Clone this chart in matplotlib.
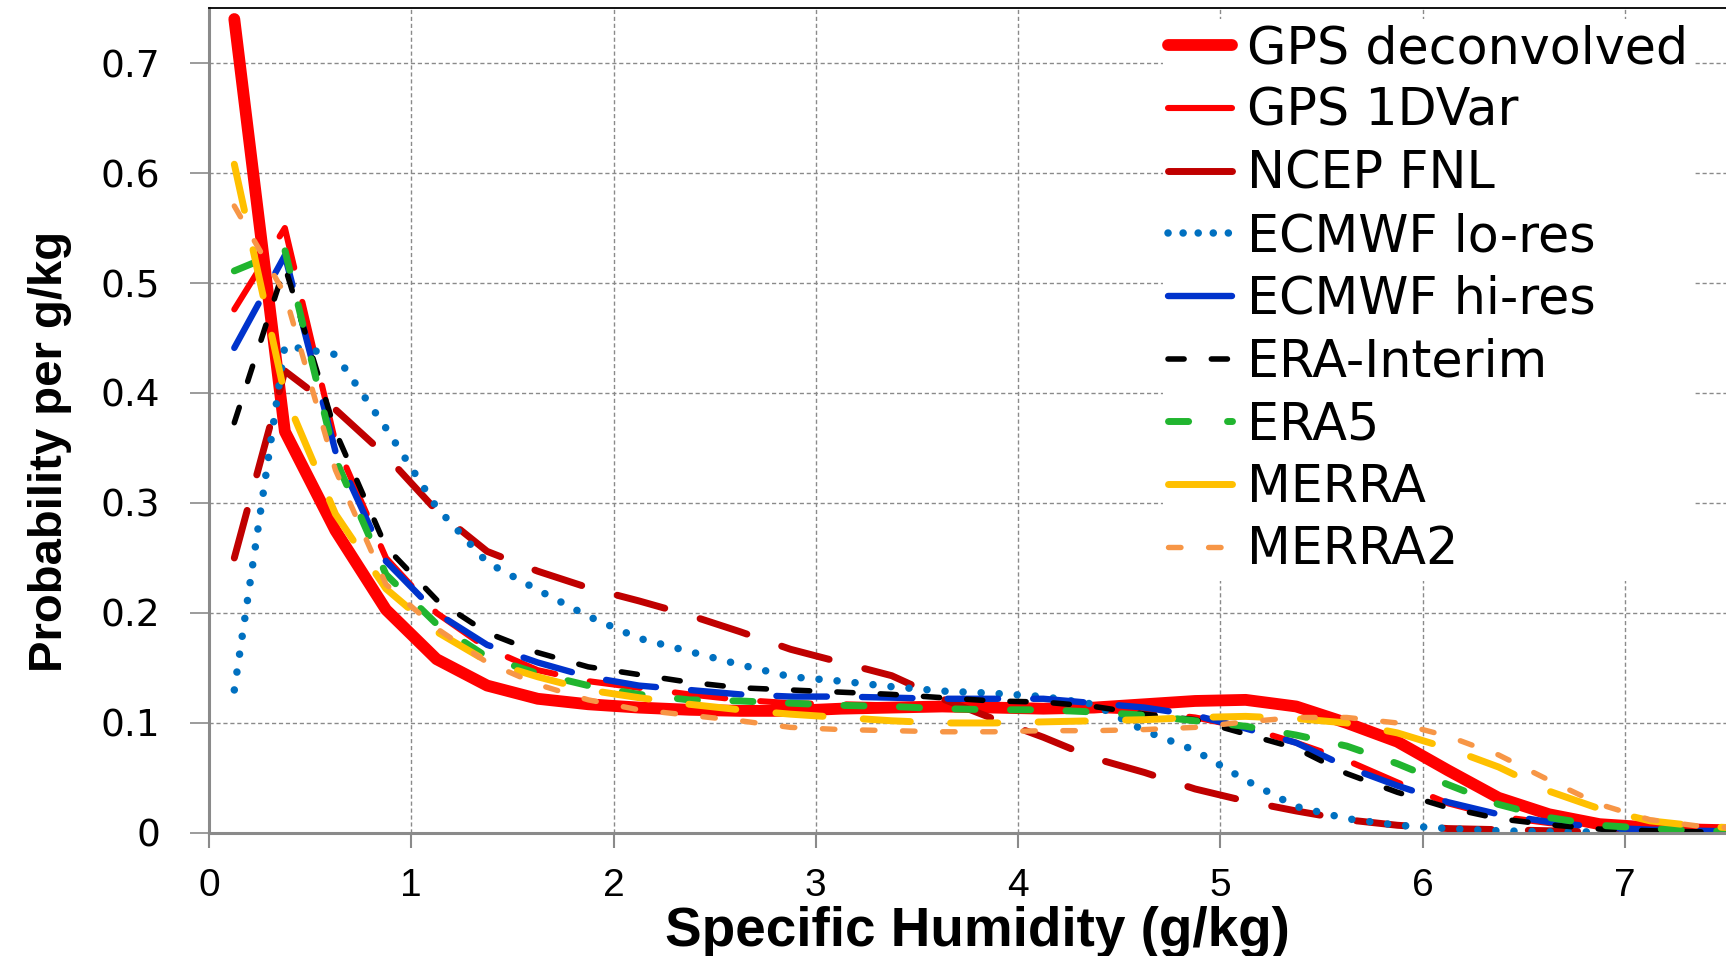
import matplotlib
matplotlib.use("Agg")
import matplotlib.pyplot as plt
from matplotlib.lines import Line2D

# bin centres (g/kg)
humidity = [0.125, 0.375, 0.625, 0.875, 1.125, 1.375, 1.625, 1.875, 2.125, 2.375,
            2.625, 2.875, 3.125, 3.375, 3.625, 3.875, 4.125, 4.375, 4.625, 4.875,
            5.125, 5.375, 5.625, 5.875, 6.125, 6.375, 6.625, 6.875, 7.125, 7.375, 7.625]

gps_deconvolved = [0.740, 0.365, 0.275, 0.203, 0.158, 0.134, 0.122, 0.117, 0.114, 0.112,
                   0.111, 0.111, 0.113, 0.114, 0.115, 0.114, 0.113, 0.114, 0.117, 0.120,
                   0.121, 0.115, 0.100, 0.083, 0.057, 0.032, 0.017, 0.008, 0.005, 0.003, 0.002]
gps_1dvar = [0.476, 0.550, 0.355, 0.250, 0.200, 0.168, 0.148, 0.138, 0.132, 0.126,
             0.121, 0.118, 0.117, 0.116, 0.115, 0.114, 0.113, 0.112, 0.110, 0.105,
             0.096, 0.082, 0.066, 0.046, 0.027, 0.015, 0.009, 0.005, 0.003, 0.002, 0.001]
ncep_fnl = [0.250, 0.420, 0.385, 0.343, 0.293, 0.256, 0.238, 0.223, 0.211, 0.198,
            0.183, 0.167, 0.155, 0.143, 0.122, 0.104, 0.087, 0.068, 0.055, 0.040,
            0.029, 0.020, 0.012, 0.007, 0.004, 0.003, 0.002, 0.001, 0.001, 0.0005, 0.0]
ecmwf_lo = [0.130, 0.443, 0.435, 0.368, 0.296, 0.246, 0.221, 0.197, 0.177, 0.165,
            0.153, 0.142, 0.138, 0.133, 0.129, 0.127, 0.124, 0.117, 0.093, 0.075,
            0.048, 0.024, 0.013, 0.007, 0.004, 0.002, 0.001, 0.001, 0.0005, 0.0, 0.0]
ecmwf_hi = [0.441, 0.525, 0.347, 0.247, 0.200, 0.171, 0.155, 0.142, 0.134, 0.130,
            0.126, 0.124, 0.124, 0.123, 0.122, 0.122, 0.122, 0.118, 0.114, 0.107,
            0.095, 0.082, 0.060, 0.043, 0.028, 0.017, 0.010, 0.005, 0.003, 0.002, 0.001]
era_interim = [0.373, 0.515, 0.365, 0.260, 0.212, 0.182, 0.164, 0.151, 0.144, 0.137,
               0.132, 0.130, 0.128, 0.126, 0.123, 0.120, 0.119, 0.115, 0.108, 0.103,
               0.090, 0.077, 0.054, 0.037, 0.023, 0.013, 0.0075, 0.0035, 0.002, 0.001, 0.0005]
era5 = [0.511, 0.530, 0.340, 0.235, 0.190, 0.160, 0.145, 0.134, 0.126, 0.121,
        0.120, 0.118, 0.116, 0.115, 0.113, 0.112, 0.112, 0.110, 0.107, 0.102,
        0.097, 0.089, 0.079, 0.063, 0.044, 0.026, 0.014, 0.007, 0.004, 0.002, 0.001]
merra = [0.608, 0.398, 0.290, 0.222, 0.183, 0.156, 0.142, 0.130, 0.123, 0.117,
         0.112, 0.108, 0.105, 0.102, 0.100, 0.100, 0.101, 0.102, 0.103, 0.105,
         0.106, 0.104, 0.100, 0.091, 0.077, 0.060, 0.038, 0.022, 0.011, 0.006, 0.004]
merra2 = [0.570, 0.490, 0.330, 0.226, 0.186, 0.155, 0.135, 0.121, 0.112, 0.107,
          0.102, 0.096, 0.094, 0.093, 0.092, 0.092, 0.093, 0.093, 0.094, 0.096,
          0.101, 0.105, 0.105, 0.100, 0.088, 0.071, 0.048, 0.026, 0.012, 0.006, 0.004]

labels = ["GPS deconvolved", "GPS 1DVar", "NCEP FNL", "ECMWF lo-res", "ECMWF hi-res",
          "ERA-Interim", "ERA5", "MERRA", "MERRA2"]
values = [gps_deconvolved, gps_1dvar, ncep_fnl, ecmwf_lo, ecmwf_hi,
          era_interim, era5, merra, merra2]

# style per series: colour, width (pt), dash in the plot, dash in the legend
colors = ["#FF0000", "#FF0000", "#C00000", "#0070C0", "#0033CC",
          "#000000", "#21B52F", "#FFC000", "#F79646"]
widths = [8.5, 4.4, 5.0, 5.4, 4.6, 4.0, 5.0, 5.0, 3.9]
plot_styles = ["-", (0, (8.3, 5.75)), (0, (7.1, 5.3)), (0, (0.01, 2.4)), (0, (7.9, 5.5)),
               (0, (2.9, 4.9)), (0, (2.9, 5.1)), (0, (6.8, 5.8)), (0, (2.3, 5.1))]
legend_styles = ["-", "-", "-", (0, (0.01, 2.0)), "-",
                 (0, (2.9, 4.9)), (0, (2.9, 5.6)), "-", (0, (2.3, 5.1))]

grid_grey = "#8a8a8a"

fig = plt.figure(figsize=(17.26, 9.56), dpi=100)
ax = fig.add_axes([0.1211, 0.1287, 0.8789, 0.8629])

for vals, col, lw, ls in zip(values, colors, widths, plot_styles):
    ax.plot(humidity, vals, color=col, linewidth=lw, linestyle=ls,
            dash_capstyle="round", solid_capstyle="round", solid_joinstyle="round")

ax.set_xlim(0, 7.5)
ax.set_ylim(0, 0.75)
ax.set_xticks(range(8))
ax.set_yticks([0, 0.1, 0.2, 0.3, 0.4, 0.5, 0.6, 0.7])
ax.set_yticklabels(["0", "0.1", "0.2", "0.3", "0.4", "0.5", "0.6", "0.7"])

ax.grid(True, color=grid_grey, linestyle=(0, (3, 2)), linewidth=1.0)
ax.set_axisbelow(True)

ax.spines["left"].set_color(grid_grey)
ax.spines["left"].set_linewidth(2.2)
ax.spines["bottom"].set_color(grid_grey)
ax.spines["bottom"].set_linewidth(2.2)
ax.spines["top"].set_color("black")
ax.spines["top"].set_linewidth(1.3)
ax.spines["right"].set_visible(False)

ax.tick_params(axis="y", direction="out", length=14, width=1.2, color=grid_grey,
               pad=21.0, labelsize=27)
ax.tick_params(axis="x", direction="out", length=10.8, width=1.5, color=grid_grey,
               pad=14.5, labelsize=28)
for lbl in ax.get_yticklabels():
    lbl.set_fontfamily(["DejaVu Sans"])
for lbl in ax.get_xticklabels():
    lbl.set_fontfamily(["Liberation Sans Narrow", "Liberation Sans", "DejaVu Sans"])

fig.text(977 / 1726, 1 - 932 / 956, "Specific Humidity (g/kg)", ha="center", va="center",
         fontsize=39.5, fontweight="bold", family=["Liberation Sans", "DejaVu Sans"])
fig.text(50 / 1726, 1 - 451 / 956, "Probability per g/kg", ha="center", va="center",
         rotation=90, fontsize=34, fontweight="bold",
         family=["Liberation Sans Narrow", "Liberation Sans", "DejaVu Sans"])

handles = [Line2D([], [], color=col, linewidth=lw, linestyle=ls,
                  dash_capstyle="round", solid_capstyle="round")
           for col, lw, ls in zip(colors, widths, legend_styles)]
leg = ax.legend(handles, labels, loc="upper left",
                bbox_to_anchor=(1163 / 1726, 1 - 19 / 956), bbox_transform=fig.transFigure,
                prop={"family": "DejaVu Sans", "size": 36.5},
                handlelength=1.26, handletextpad=0.3, labelspacing=0.25,
                borderpad=0.1, borderaxespad=0, frameon=True, fancybox=False,
                edgecolor="none", facecolor="white", framealpha=1)

fig.savefig("out.png", dpi=100)
plt.close(fig)
